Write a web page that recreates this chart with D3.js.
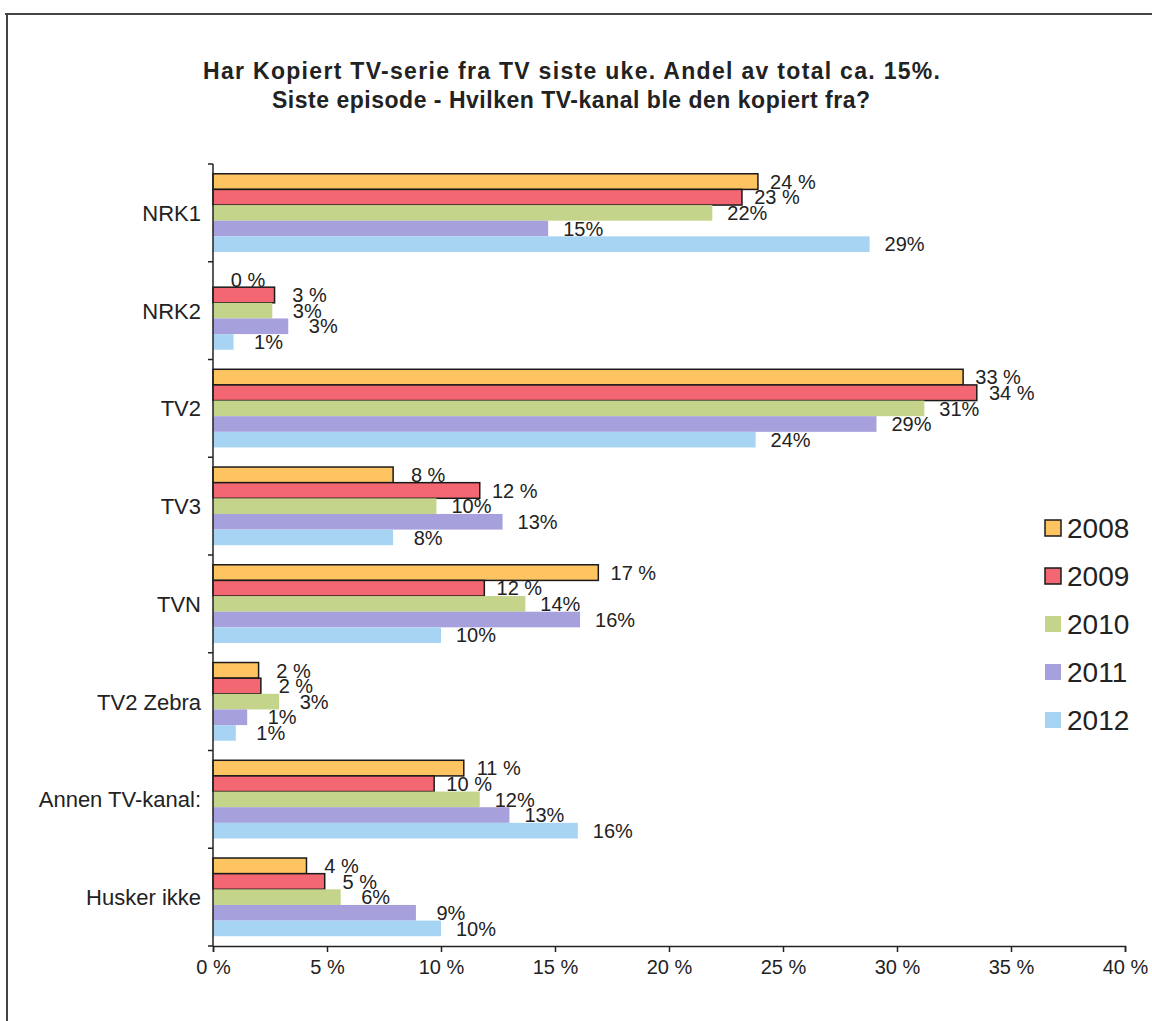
<!DOCTYPE html>
<html>
<head>
<meta charset="utf-8">
<script src="https://cdn.jsdelivr.net/npm/d3@7"></script>
<style>
  html, body { margin: 0; padding: 0; background: #fff; }
  svg { display: block; font-family: "Liberation Sans", Arial, sans-serif; }
</style>
</head>
<body>
<div id="chart"></div>
<script>
// Data
const categories = ['NRK1', 'NRK2', 'TV2', 'TV3', 'TVN', 'TV2 Zebra', 'Annen TV-kanal:', 'Husker ikke'];
const years = ['2008', '2009', '2010', '2011', '2012'];
const values2008 = [23.9, 0, 32.9, 7.9, 16.9, 2.0, 11.0, 4.1];
const values2009 = [23.2, 2.7, 33.5, 11.7, 11.9, 2.1, 9.7, 4.9];
const values2010 = [21.9, 2.6, 31.2, 9.8, 13.7, 2.9, 11.7, 5.6];
const values2011 = [14.7, 3.3, 29.1, 12.7, 16.1, 1.5, 13.0, 8.9];
const values2012 = [28.8, 0.9, 23.8, 7.9, 10.0, 1.0, 16.0, 10.0];
const labels2008 = ['24 %', '0 %', '33 %', '8 %', '17 %', '2 %', '11 %', '4 %'];
const labels2009 = ['23 %', '3 %', '34 %', '12 %', '12 %', '2 %', '10 %', '5 %'];
const labels2010 = ['22%', '3%', '31%', '10%', '14%', '3%', '12%', '6%'];
const labels2011 = ['15%', '3%', '29%', '13%', '16%', '1%', '13%', '9%'];
const labels2012 = ['29%', '1%', '24%', '8%', '10%', '1%', '16%', '10%'];
const xTicks = [0, 5, 10, 15, 20, 25, 30, 35, 40];
const titleLines = [
  'Har Kopiert TV-serie fra TV siste uke. Andel av total ca. 15%.',
  'Siste episode - Hvilken TV-kanal ble den kopiert fra?'
];

const seriesValues = [values2008, values2009, values2010, values2011, values2012];
const seriesLabels = [labels2008, labels2009, labels2010, labels2011, labels2012];
const colours = ['#ffc462', '#f26771', '#c4d48b', '#a6a0dc', '#a8d4f4'];
const outlined = [true, true, false, false, false];

const width = 1152, height = 1021;
const plot = { left: 213, right: 1125, top: 164, bottom: 946 };

const svg = d3.select('#chart').append('svg')
  .attr('width', width)
  .attr('height', height);

// Scan frame edges
svg.append('line')
  .attr('x1', 5).attr('x2', width).attr('y1', 14).attr('y2', 14)
  .attr('stroke', '#444').attr('stroke-width', 2);
svg.append('line')
  .attr('x1', 7).attr('x2', 7).attr('y1', 14).attr('y2', height)
  .attr('stroke', '#444').attr('stroke-width', 2);

// Title (stretched to the width seen in the scan)
const titleWidths = [737, 598];
svg.append('g')
  .selectAll('text')
  .data(titleLines)
  .enter()
  .append('text')
  .attr('x', (d, i) => i === 0 ? 203 : 272)
  .attr('y', (d, i) => 79 + i * 29)
  .attr('textLength', (d, i) => titleWidths[i])
  .attr('lengthAdjust', 'spacing')
  .attr('font-size', 23)
  .attr('font-weight', 'bold')
  .attr('fill', '#222')
  .text(d => d);

const x = d3.scaleLinear().domain([0, 40]).range([plot.left, plot.right]);
const y = d3.scaleBand()
  .domain(categories)
  .range([plot.top, plot.bottom])
  .paddingInner(0.2)
  .paddingOuter(0.1);
const ySub = d3.scaleBand()
  .domain(years)
  .range([0, y.bandwidth()]);

// Bars
const groups = svg.append('g')
  .selectAll('g.cat')
  .data(categories)
  .enter()
  .append('g')
  .attr('class', 'cat')
  .attr('transform', d => `translate(0,${y(d)})`);

years.forEach((yr, s) => {
  groups.append('rect')
    .attr('x', x(0))
    .attr('y', ySub(yr))
    .attr('width', (d, i) => x(seriesValues[s][i]) - x(0))
    .attr('height', ySub.bandwidth())
    .attr('fill', colours[s])
    .attr('stroke', outlined[s] ? '#1a1a1a' : 'none')
    .attr('stroke-width', outlined[s] ? 1.5 : 0)
    .attr('display', (d, i) => seriesValues[s][i] > 0 ? null : 'none');
});

// Value labels
years.forEach((yr, s) => {
  groups.append('text')
    .attr('x', (d, i) => x(seriesValues[s][i]) + 35)
    .attr('y', ySub(yr) + ySub.bandwidth() / 2)
    .attr('dy', '0.36em')
    .attr('text-anchor', 'middle')
    .attr('font-size', 20)
    .attr('fill', '#222')
    .text((d, i) => seriesLabels[s][i]);
});

// Y axis
svg.append('line')
  .attr('x1', plot.left).attr('x2', plot.left)
  .attr('y1', plot.top).attr('y2', plot.bottom)
  .attr('stroke', '#222').attr('stroke-width', 1.5);
const boundaries = d3.range(categories.length + 1).map(i => plot.top + i * y.step());
svg.append('g')
  .selectAll('line')
  .data(boundaries)
  .enter()
  .append('line')
  .attr('x1', plot.left - 5).attr('x2', plot.left)
  .attr('y1', d => d).attr('y2', d => d)
  .attr('stroke', '#222').attr('stroke-width', 1.5);

svg.append('g')
  .selectAll('text')
  .data(categories)
  .enter()
  .append('text')
  .attr('x', 201)
  .attr('y', d => y(d) + y.bandwidth() / 2)
  .attr('dy', '0.36em')
  .attr('text-anchor', 'end')
  .attr('font-size', 22)
  .attr('fill', '#222')
  .text(d => d);

// X axis
const xAxis = svg.append('g')
  .attr('transform', `translate(0,${plot.bottom})`)
  .call(d3.axisBottom(x)
    .tickValues(xTicks)
    .tickSize(6)
    .tickPadding(8)
    .tickFormat(d => d + ' %'));
xAxis.select('.domain').attr('stroke', '#222').attr('stroke-width', 1.5);
xAxis.selectAll('.tick line').attr('stroke', '#222').attr('stroke-width', 1.5);
xAxis.selectAll('.tick text')
  .attr('font-size', 20)
  .attr('font-family', '"Liberation Sans", Arial, sans-serif')
  .attr('fill', '#222');

// Legend
const legend = svg.append('g')
  .attr('transform', 'translate(1045, 520)');
const legendItems = legend.selectAll('g')
  .data(years)
  .enter()
  .append('g')
  .attr('transform', (d, i) => `translate(0,${i * 48})`);
legendItems.append('rect')
  .attr('width', 16).attr('height', 16)
  .attr('fill', (d, i) => colours[i])
  .attr('stroke', (d, i) => outlined[i] ? '#1a1a1a' : 'none')
  .attr('stroke-width', 1.5);
legendItems.append('text')
  .attr('x', 22)
  .attr('y', 8)
  .attr('dy', '0.36em')
  .attr('font-size', 28)
  .attr('fill', '#222')
  .text(d => d);
</script>
</body>
</html>
